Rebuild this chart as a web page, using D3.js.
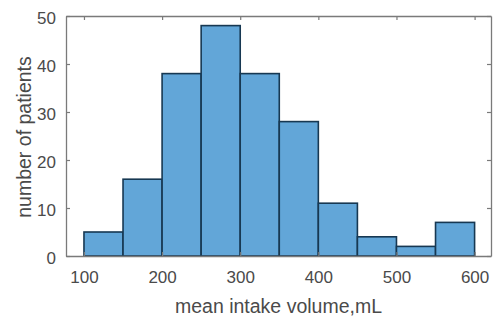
<!doctype html>
<html lang="en">
<head>
<meta charset="utf-8">
<title>Intake histogram</title>
<style>
  body { margin: 0; background: #fff; }
  text { font-family: "Liberation Sans", Arial, sans-serif; fill: #4a4a4a; }
</style>
</head>
<body>
<script src="https://d3js.org/d3.v7.min.js"></script>
<script>
// bin edges (mL) and counts per bin
var binStarts = [100, 150, 200, 250, 300, 350, 400, 450, 500, 550];
var binWidth = 50;
var counts = [5, 16, 38, 48, 38, 28, 11, 4, 2, 7];
var xTicks = [100, 200, 300, 400, 500, 600];
var yTicks = [0, 10, 20, 30, 40, 50];

var W = 494, H = 319;
var plotL = 66, plotR = 491, plotT = 16, plotB = 256;

var svg = d3.select("body").append("svg")
    .attr("width", W)
    .attr("height", H);

var x = d3.scaleLinear().domain([77, 621]).range([plotL, plotR]);
var y = d3.scaleLinear().domain([0, 50]).range([plotB, plotT]);

var bins = binStarts.map(function(s, i) { return {x0: s, x1: s + binWidth, n: counts[i]}; });

svg.selectAll("rect.bar")
    .data(bins)
    .enter().append("rect")
    .attr("class", "bar")
    .attr("x", function(d) { return x(d.x0); })
    .attr("y", function(d) { return y(d.n); })
    .attr("width", function(d) { return x(d.x1) - x(d.x0); })
    .attr("height", function(d) { return y(0) - y(d.n); })
    .attr("fill", "#62a6d8")
    .attr("stroke", "#173852")
    .attr("stroke-width", 1.6);

// box with inward ticks on all four sides
var tick = 4;
var axisCol = "#7a7a7a";

function styleAxis(g) {
    g.select(".domain").attr("stroke", axisCol).attr("stroke-width", 1.3).attr("fill", "none");
    g.selectAll(".tick line").attr("stroke", axisCol).attr("stroke-width", 1.2);
    g.selectAll(".tick text").attr("font-size", 17).attr("fill", "#4a4a4a");
}

svg.append("g")
    .attr("transform", "translate(0," + plotB + ")")
    .call(d3.axisBottom(x).tickValues(xTicks).tickSizeInner(-tick).tickSizeOuter(0).tickPadding(15))
    .call(styleAxis);

svg.append("g")
    .attr("transform", "translate(0," + plotT + ")")
    .call(d3.axisTop(x).tickValues(xTicks).tickSizeInner(-tick).tickSizeOuter(0).tickFormat(""))
    .call(styleAxis);

svg.append("g")
    .attr("transform", "translate(" + plotL + ",0)")
    .call(d3.axisLeft(y).tickValues(yTicks).tickSizeInner(-tick).tickSizeOuter(0).tickPadding(10))
    .call(styleAxis);

svg.selectAll(".tick text").filter(function() { return this.parentNode.parentNode.getAttribute("transform") === "translate(" + plotL + ",0)"; })
    .attr("dy", "0.45em");

svg.append("g")
    .attr("transform", "translate(" + plotR + ",0)")
    .call(d3.axisRight(y).tickValues(yTicks).tickSizeInner(-tick).tickSizeOuter(0).tickFormat(""))
    .call(styleAxis);

svg.append("text")
    .attr("x", 278.5)
    .attr("y", 313)
    .attr("text-anchor", "middle")
    .attr("font-size", 19.5)
    .text("mean intake volume,mL");

svg.append("text")
    .attr("transform", "translate(31,137) rotate(-90)")
    .attr("text-anchor", "middle")
    .attr("font-size", 19.5)
    .text("number of patients");
</script>
</body>
</html>
